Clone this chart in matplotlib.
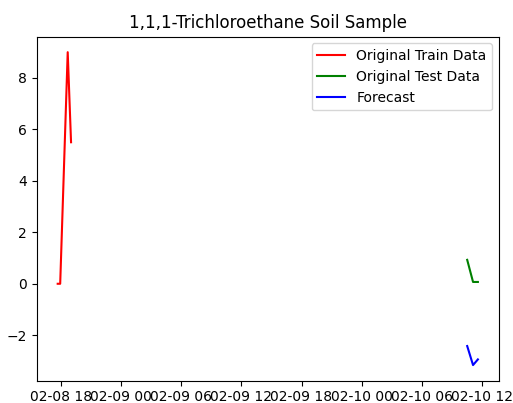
import matplotlib
matplotlib.use("Agg")
import matplotlib.pyplot as plt
import pandas as pd

# 训练数据 / 测试数据 / 预测值
train_time = ["2023-02-08 17:40", "2023-02-08 17:55", "2023-02-08 18:40", "2023-02-08 19:00"]
train_vals = [0.0, 0.0, 9.0, 5.5]

test_time = ["2023-02-10 10:32", "2023-02-10 11:07", "2023-02-10 11:36"]
test_vals = [0.93, 0.07, 0.07]

forecast_vals = [-2.42, -3.16, -2.94]

train_idx = pd.to_datetime(train_time)
test_idx = pd.to_datetime(test_time)

fig = plt.figure(figsize=(5.13, 4.03), dpi=100)
ax = fig.add_axes([0.0715, 0.0553, 0.901, 0.854])

ax.plot(train_idx, train_vals, color="red", label="Original Train Data")
ax.plot(test_idx, test_vals, color="green", label="Original Test Data")
ax.plot(test_idx, forecast_vals, color="blue", label="Forecast")

ax.set_title("1,1,1-Trichloroethane Soil Sample")
ax.legend(loc="upper right")

fig.savefig("out.png", dpi=100)
